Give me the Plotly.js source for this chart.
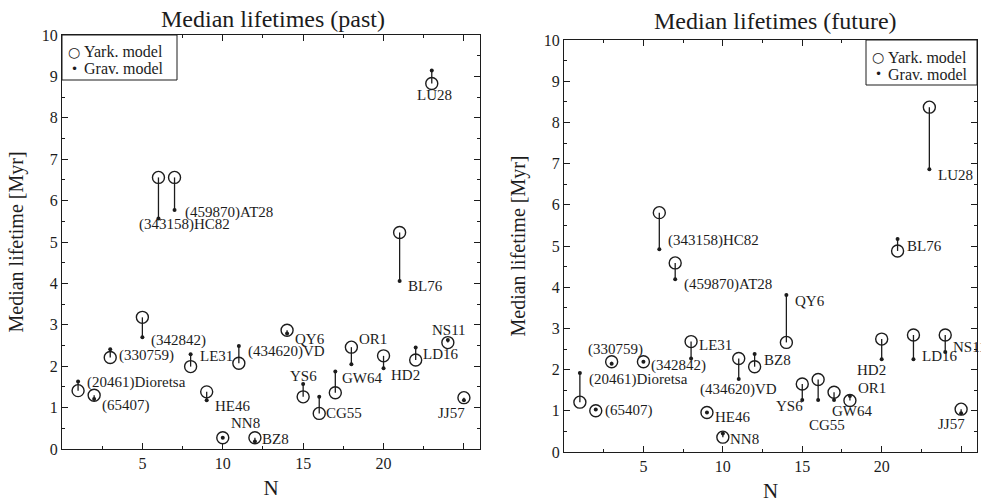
<!DOCTYPE html>
<html>
<head>
<meta charset="utf-8">
<script src="https://cdn.plot.ly/plotly-3.0.1.min.js"></script>
<style>html,body{margin:0;padding:0;background:#fff;}#chart{width:981px;height:503px;}</style>
</head>
<body>
<div id="chart"></div>
<script>
// ---- data ----
const N = [1,2,3,5,6,7,8,9,10,11,12,14,15,16,17,18,20,21,22,23,24,25];
const names = ['(20461)Dioretsa','(65407)','(330759)','(342842)','(343158)HC82','(459870)AT28','LE31','HE46','NN8','(434620)VD','BZ8','QY6','YS6','CG55','GW64','OR1','HD2','BL76','LD16','LU28','NS11','JJ57'];
const pastYark = [1.41,1.30,2.21,3.18,6.56,6.56,1.99,1.38,0.27,2.07,0.27,2.87,1.26,0.86,1.36,2.46,2.25,5.23,2.15,8.83,2.57,1.24];
const pastGrav = [1.63,1.21,2.41,2.70,5.57,5.77,2.29,1.18,0.27,2.49,0.18,2.79,1.57,1.26,1.87,2.05,1.95,4.06,2.45,9.14,2.63,1.18];
const futureYark = [1.21,1.00,2.19,2.19,5.81,4.59,2.68,0.96,0.36,2.27,2.07,2.66,1.65,1.76,1.45,1.25,2.74,4.88,2.84,8.37,2.84,1.04];
const futureGrav = [1.92,1.03,2.14,2.19,4.92,4.19,2.27,0.96,0.45,1.77,2.38,3.81,1.26,1.26,1.26,1.36,2.25,5.17,2.25,6.86,2.43,0.94];
const seriesNames = ['Yark. model', 'Grav. model'];
const xTickVals = [5,10,15,20,25];
const xTickText = ['5','10','15','20',''];
const yTickVals = [0,1,2,3,4,5,6,7,8,9,10];

// ---- label placement (anchor, dx px, dy px down) relative to the Yark point ----
const pastLabelPos = [
 ['left',7,-8],['left',6,10],['left',7,-2],['left',7,23],['left',-21,47],['left',8,35],
 ['left',7,-11],['left',6,14],['left',6,-15],['left',7,-12],['left',5,1],['left',6,9],
 ['center',0,-21],['left',5,0],['left',5,-15],['left',6,-8],['left',5,19],['left',6,54],
 ['left',5,-6],['center',3,12],['center',1,-13],['right',3,15]
];
const futureLabelPos = [
 ['left',7,-23],['left',7,0],['center',4,-12],['left',6,4],['left',7,28],['left',7,22],
 ['left',6,3],['left',6,5],['left',5,2],['center',0,31],['left',7,-7],['left',7,-41],
 ['right',3,22],['center',9,46],['left',-4,19],['left',6,-13],['right',6,31],['left',7,-5],
 ['left',7,21],['left',7,68],['left',6,12],['right',6,15]
];

const W = 981, H = 503;
const FONT = 'Liberation Serif, Times New Roman, serif';
const INK = '#1c1c1c';

function stems(xs, a, b) {
  const x = [], y = [];
  xs.forEach((n, i) => { x.push(n, n, null); y.push(a[i], b[i], null); });
  return {x, y};
}

function panelTraces(yark, grav, xa, ya) {
  const s = stems(N, yark, grav);
  return [
    {type:'scatter', mode:'lines', x:s.x, y:s.y, xaxis:xa, yaxis:ya, showlegend:false,
     line:{color:INK, width:1.3}, hoverinfo:'skip'},
    {type:'scatter', mode:'markers', name:seriesNames[0], x:N, y:yark, xaxis:xa, yaxis:ya, showlegend:false,
     marker:{symbol:'circle-open', size:12, color:INK, line:{width:1.4, color:INK}}},
    {type:'scatter', mode:'markers', name:seriesNames[1], x:N, y:grav, xaxis:xa, yaxis:ya, showlegend:false,
     marker:{symbol:'circle', size:4, color:INK}}
  ];
}

const data = [
  ...panelTraces(pastYark, pastGrav, 'x', 'y'),
  ...panelTraces(futureYark, futureGrav, 'x2', 'y2')
];

function labels(yark, pos, xr, yr) {
  return names.map((t, i) => ({
    text: t, x: N[i], y: yark[i], xref: xr, yref: yr, showarrow: false,
    xanchor: pos[i][0], yanchor: 'middle', xshift: pos[i][1], yshift: -pos[i][2],
    font: {family: FONT, size: 15, color: INK}
  }));
}

// legend box drawn as a shape with text entries (left, top, right, bottom in px)
function legendBox(l, t, r, b) {
  const shape = {type:'rect', xref:'paper', yref:'paper', x0:l/W, x1:r/W, y0:1-b/H, y1:1-t/H,
    line:{color:INK, width:1}, fillcolor:'#fff', layer:'above'};
  const rowY = [t + 17, t + 34];
  const sym = ['○', '•'];
  const anns = [];
  seriesNames.forEach((nm, i) => {
    anns.push({text: sym[i], x:(l+12)/W, y:1-rowY[i]/H, xref:'paper', yref:'paper', xanchor:'center', yanchor:'middle',
      showarrow:false, font:{family:'DejaVu Sans', size: i === 0 ? 14 : 12, color:INK}});
    anns.push({text: nm, x:(l+20)/W, y:1-rowY[i]/H, xref:'paper', yref:'paper', xanchor:'left', yanchor:'middle',
      showarrow:false, font:{family:FONT, size:16, color:INK}});
  });
  return {shape, anns};
}
const leg1 = legendBox(62, 35, 177, 80);
const leg2 = legendBox(866, 40, 977, 85);

function xAxis(dom, anchor) {
  return {domain: dom, anchor: anchor, range: [0, 26], showgrid: false, zeroline: false,
    showline: true, linecolor: INK, linewidth: 1, mirror: 'ticks',
    ticks: 'inside', ticklen: 6, tickcolor: INK, tickwidth: 1,
    tickmode: 'array', tickvals: xTickVals, ticktext: xTickText,
    minor: {dtick: 2.5, tick0: 0, ticks: 'inside', ticklen: 3, tickcolor: INK},
    tickfont: {family: FONT, size: 16, color: INK},
    title: {text: 'N', font: {family: FONT, size: 21, color: INK}, standoff: 9}};
}
function yAxis(dom, anchor) {
  return {domain: dom, anchor: anchor, range: [0, 10], showgrid: false, zeroline: false,
    showline: true, linecolor: INK, linewidth: 1, mirror: 'ticks',
    ticks: 'inside', ticklen: 6, tickcolor: INK, tickwidth: 1,
    tickmode: 'array', tickvals: yTickVals,
    minor: {dtick: 0.5, tick0: 0, ticks: 'inside', ticklen: 3, tickcolor: INK},
    tickfont: {family: FONT, size: 16, color: INK},
    title: {text: 'Median lifetime [Myr]', font: {family: FONT, size: 20, color: INK}, standoff: 12}};
}

const layout = {
  width: W, height: H, margin: {l: 0, r: 0, t: 0, b: 0},
  paper_bgcolor: '#fff', plot_bgcolor: '#fff', showlegend: false,
  xaxis: xAxis([62/W, 480/W], 'y'),
  yaxis: yAxis([1 - 449/H, 1 - 35/H], 'x'),
  xaxis2: xAxis([564/W, 977/W], 'y2'),
  yaxis2: yAxis([1 - 452/H, 1 - 40/H], 'x2'),
  shapes: [leg1.shape, leg2.shape],
  annotations: [
    {text: 'Median lifetimes (past)', x: 273/W, y: 1 - 19/H, xref: 'paper', yref: 'paper',
     xanchor: 'center', yanchor: 'middle', showarrow: false, font: {family: FONT, size: 24, color: INK}},
    {text: 'Median lifetimes (future)', x: 775/W, y: 1 - 21/H, xref: 'paper', yref: 'paper',
     xanchor: 'center', yanchor: 'middle', showarrow: false, font: {family: FONT, size: 24, color: INK}},
    ...leg1.anns, ...leg2.anns,
    ...labels(pastYark, pastLabelPos, 'x', 'y'),
    ...labels(futureYark, futureLabelPos, 'x2', 'y2')
  ]
};

Plotly.newPlot('chart', data, layout, {staticPlot: true, displayModeBar: false});
</script>
</body>
</html>
